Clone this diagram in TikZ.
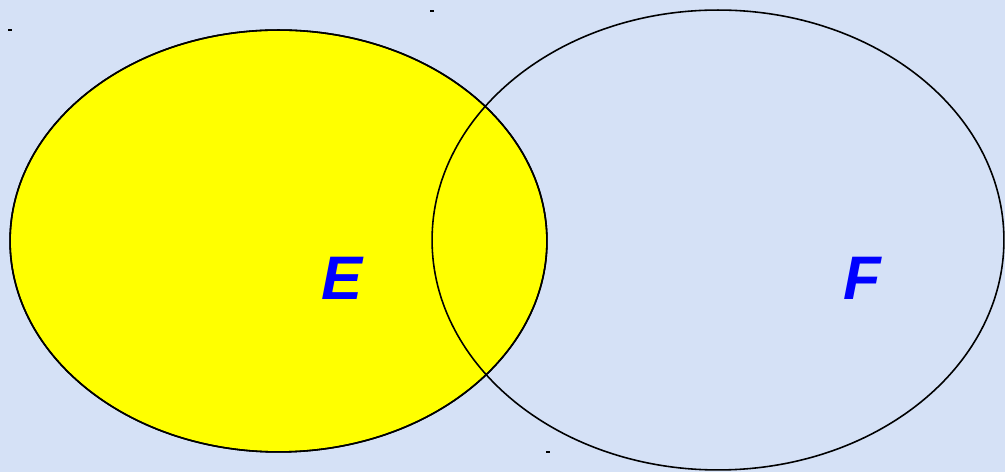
\documentclass[tikz,border=0pt]{standalone}
\usepackage{fontspec}
\setmainfont{Liberation Sans}
\usetikzlibrary{shapes.geometric}
\definecolor{paleblue}{RGB}{213,225,246}
\definecolor{setyellow}{RGB}{255,255,0}
\definecolor{labelblue}{RGB}{0,0,255}
\begin{document}
\begin{tikzpicture}[
    x=0.02cm, y=-0.02cm,
    set/.style={
        ellipse, draw=black, line width=0.9pt, inner sep=0pt
    },
    setname/.style={
        text=labelblue, inner sep=0pt,
        font=\fontsize{35}{40}\selectfont\bfseries\itshape
    },
    speck/.style={fill=black, inner sep=0pt, minimum width=2pt, minimum height=1.2pt}
]

% Background
\fill[paleblue] (0,0) rectangle (1005,472);
\useasboundingbox (0,0) rectangle (1005,472);

% Sets
\node[set, fill=setyellow, minimum width=10.74cm, minimum height=8.44cm] (setE) at (278.5,241) {};
\node[set, minimum width=11.44cm, minimum height=9.2cm] (setF) at (718,240) {};
\node[set, minimum width=10.74cm, minimum height=8.44cm] at (setE.center) {};

% Labels
\node[setname] (labelE) at (342,278) {E};
\node[setname] (labelF) at (862,278) {F};

% Specks
\node[speck] (speck1) at (10,30) {};
\node[speck] (speck2) at (432,11) {};
\node[speck] (speck3) at (548,452) {};

\end{tikzpicture}
\end{document}
